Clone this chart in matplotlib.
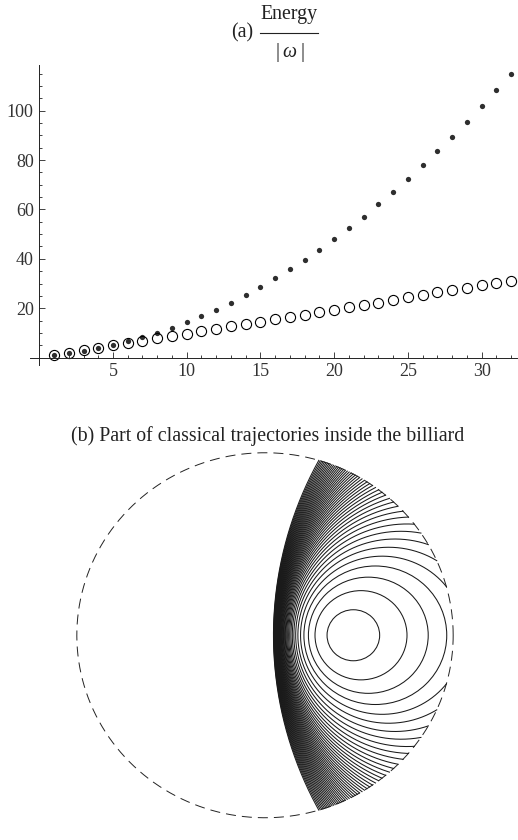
import numpy as np
import matplotlib
matplotlib.use("Agg")
import matplotlib.pyplot as plt
from matplotlib.patches import Circle

plt.rcParams['font.family'] = ['Liberation Serif', 'DejaVu Serif']
plt.rcParams['mathtext.fontset'] = 'custom'
plt.rcParams['mathtext.rm'] = 'Liberation Serif'
plt.rcParams['mathtext.it'] = 'Liberation Serif:italic'

# (a) energy levels
n = np.arange(1, 33)
energia_llena = [1.0, 1.9, 2.7, 3.9, 5.1, 6.6, 8.3, 10.1, 12.1, 14.3, 16.8, 19.3,
                 22.0, 25.3, 28.6, 32.1, 35.8, 39.7, 43.7, 47.9, 52.5, 57.1, 62.1, 67.1,
                 72.3, 78.0, 83.7, 89.5, 95.6, 101.9, 108.4, 115.0]
energia_abierta = [1.0, 2.0, 3.0, 3.9, 4.9, 5.8, 6.6, 7.8, 8.8, 9.7, 10.7, 11.6,
                   12.7, 13.6, 14.6, 15.5, 16.5, 17.4, 18.5, 19.4, 20.4, 21.3, 22.3, 23.4,
                   24.5, 25.5, 26.4, 27.3, 28.3, 29.3, 30.3, 31.1]
xticks_a = [5, 10, 15, 20, 25, 30]
yticks_a = [20, 40, 60, 80, 100]

# (b) billiard (unit circle) and the family of orbits
radio_billar = 1.0
c_limite, r_limite = 2.153, 2.110   # circle the orbits pile up against
foco = 0.4485                       # point the orbits shrink to
n_orbitas = 48
kk = np.arange(1, n_orbitas + 1) - 0.5
t_orbitas = 0.025 * kk / (1 - (kk / 49.0)**2)

fig = plt.figure(figsize=(5.18, 8.4), dpi=100)

# ---- panel (a)
ax = fig.add_axes([30/518, 1 - 365/840, 487/518, 300/840])
ax.plot(n, energia_llena, 'o', ms=3.8, color='#2e2e2e', mec='none', clip_on=False)
ax.plot(n, energia_abierta, 'o', ms=7.3, mfc='none', mec='black', mew=0.8, clip_on=False)
ax.set_xlim(-0.63, 32.4)
ax.set_ylim(-3, 118.5)
for s in ['top', 'right']:
    ax.spines[s].set_visible(False)
ax.spines['left'].set_position(('data', 0))
ax.spines['bottom'].set_position(('data', 0))
for s in ['left', 'bottom']:
    ax.spines[s].set_linewidth(0.7)
    ax.spines[s].set_color('#222222')
ax.set_xticks(xticks_a)
ax.set_yticks(yticks_a)
ax.set_xticks(np.arange(1, 33), minor=True)
ax.set_yticks(np.arange(5, 119, 5), minor=True)
ax.tick_params(which='both', direction='in', width=0.6, color='#222222',
               labelsize=13, labelcolor='#333333')
ax.tick_params(which='major', length=4.5)
ax.tick_params(which='minor', length=2.3)
ax.tick_params(axis='x', pad=4)
ax.tick_params(axis='y', pad=4)

# title (a): label and a hand-built fraction
fig.text(242/518, 1 - 33/840, '(a)', ha='center', va='center', fontsize=14.3, color='#222222')
fig.text(289/518, 1 - 14/840, 'Energy', ha='center', va='center', fontsize=14.3, color='#222222')
fig.add_artist(plt.Line2D([260/518, 318/518], [1 - 33/840, 1 - 33/840],
                          transform=fig.transFigure, color='#222222', lw=0.8))
fig.text(290/518, 1 - 53/840, r'$|\;\omega\;|$', ha='center', va='center',
         fontsize=14.3, color='#222222')

# ---- panel (b)
fig.text(268/518, 1 - 436/840, '(b) Part of classical trajectories inside the billiard',
         ha='center', va='center', fontsize=14.3, color='#222222')

bx = fig.add_axes([58/518, 1 - 836/840, 414/518, 401.5/840])
bx.set_xlim(-1.1, 1.1)
bx.set_ylim(-1.1, 1.1)
bx.axis('off')

th = np.linspace(0, 2*np.pi, 2000)
bx.plot(radio_billar*np.cos(th), radio_billar*np.sin(th), color='#222222',
        lw=0.7, dashes=(10.3, 6.2))

for t in t_orbitas:
    mu = 1.0 / t
    cx = (c_limite + mu*foco) / (1 + mu)
    k = (c_limite**2 - r_limite**2 + mu*foco**2) / (1 + mu)
    r = np.sqrt(cx**2 - k)
    # keep only the part of the orbit inside the billiard
    cos_a = (radio_billar**2 - cx**2 - r**2) / (2*cx*r)
    if cos_a >= 1:
        bx.add_patch(Circle((cx, 0), r, fill=False, ec='#1a1a1a', lw=0.75))
        continue
    a = np.arccos(np.clip(cos_a, -1, 1))
    ang = np.linspace(a, 2*np.pi - a, 1500)
    bx.plot(cx + r*np.cos(ang), r*np.sin(ang), color='#1a1a1a', lw=0.75)

fig.savefig('out.png', dpi=100)
